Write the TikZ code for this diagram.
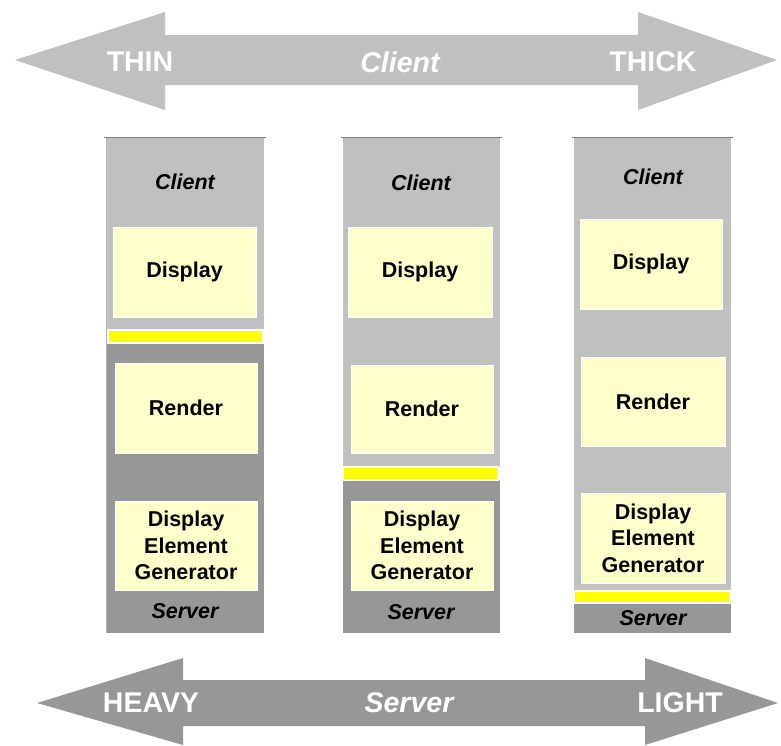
\documentclass[tikz,border=0pt]{standalone}
\usepackage{fontspec}
\setmainfont{Liberation Sans}
\definecolor{litegray}{HTML}{C0C0C0}
\definecolor{midgray}{HTML}{979797}
\definecolor{cream}{HTML}{FFFFCC}
\definecolor{barcolor}{HTML}{FFFF00}
\begin{document}
\begin{tikzpicture}[x=1pt,y=-1pt,
  band/.style={text=white,font=\fontsize{28.5}{30}\selectfont\bfseries},
  layer/.style={fill=cream,draw=white,line width=1pt,inner sep=0pt,align=center,
    font=\fontsize{21.5}{26.5}\selectfont\bfseries},
  tag/.style={font=\fontsize{21.5}{26}\selectfont\bfseries\itshape}]
\useasboundingbox (0,0) rectangle (781,745);
% client arrow
\fill[litegray](15,60)--(165,12)--(165,35)--(638,35)--(638,12)--(777,60)
  --(638,110)--(638,85)--(165,85)--(165,110)--cycle;
\node[band] (thin) at (140,62) {THIN};
\node[band,font=\fontsize{28.5}{30}\selectfont\bfseries\itshape] (client) at (400,62) {Client};
\node[band] (thick) at (653,62) {THICK};
% server arrow
\fill[midgray](37,703)--(183,658)--(183,680)--(645,680)--(645,658)--(778,703)
  --(645,745)--(645,726)--(183,726)--(183,745)--cycle;
\node[band] (heavy) at (151,703) {HEAVY};
\node[band,font=\fontsize{28.5}{30}\selectfont\bfseries\itshape] (server) at (409,703) {Server};
\node[band] (light) at (680,703) {LIGHT};
% column 1
\fill[litegray](106,138) rectangle (264,330);
\fill[midgray](106,343) rectangle (264,633);
\draw[gray](104,137)--(266,137);
\draw[gray!60](106,138)--(106,633);
\fill[barcolor,draw=white,line width=1.5pt](108,330) rectangle (263,343);
\node[tag] (cli1) at (185,182) {Client};
\node[layer,minimum width=143pt,minimum height=90pt] (disp1) at (184.5,272) {Display};
\node[layer,minimum width=142pt,minimum height=90pt] (rend1) at (186,408) {Render};
\node[layer,minimum width=142pt,minimum height=89pt] (gen1) at (186,545.5) {Display\\Element\\Generator};
\node[tag] (srv1) at (185,611) {Server};
% column 2
\fill[litegray](343,138) rectangle (500,467);
\fill[midgray](343,480) rectangle (500,633);
\draw[gray](341,137)--(502,137);
\fill[barcolor,draw=white,line width=1.5pt](343,467) rectangle (498,480);
\node[tag] (cli2) at (421,183) {Client};
\node[layer,minimum width=144pt,minimum height=90pt] (disp2) at (420,272) {Display};
\node[layer,minimum width=142pt,minimum height=88pt] (rend2) at (422,409) {Render};
\node[layer,minimum width=142pt,minimum height=89pt] (gen2) at (422,545.5) {Display\\Element\\Generator};
\node[tag] (srv2) at (421,612) {Server};
% column 3
\fill[litegray](574,138) rectangle (731,591);
\fill[midgray](574,603) rectangle (731,633);
\draw[gray](572,137)--(733,137);
\fill[barcolor,draw=white,line width=1.5pt](574,591) rectangle (730,603);
\node[tag] (cli3) at (653,177) {Client};
\node[layer,minimum width=142pt,minimum height=90pt] (disp3) at (651,264) {Display};
\node[layer,minimum width=144pt,minimum height=89pt] (rend3) at (653,401.5) {Render};
\node[layer,minimum width=144pt,minimum height=90pt] (gen3) at (653,538) {Display\\Element\\Generator};
\node[tag] (srv3) at (653,618) {Server};
\end{tikzpicture}
\end{document}
